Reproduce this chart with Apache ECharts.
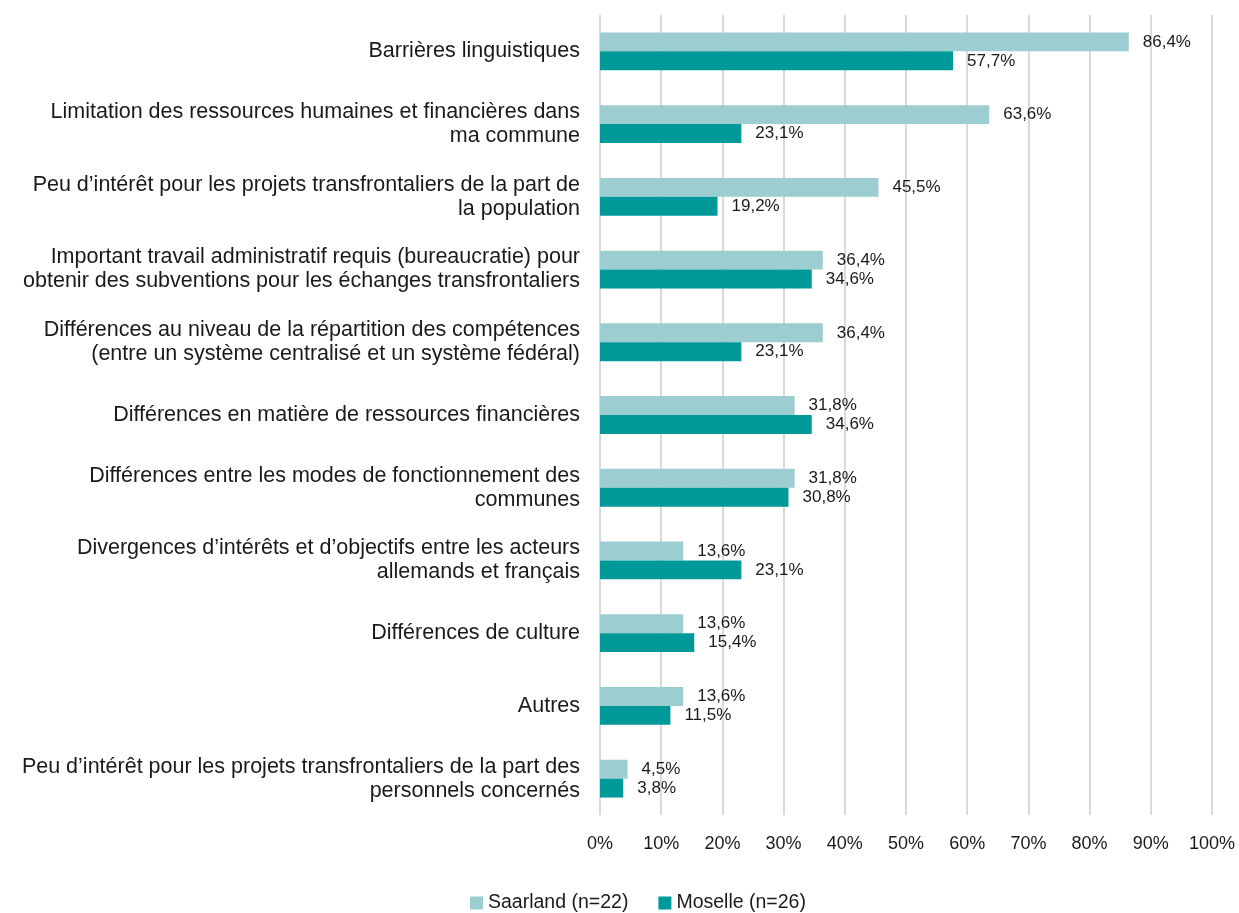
<!DOCTYPE html>
<html>
<head>
<meta charset="utf-8">
<script src="https://cdn.jsdelivr.net/npm/echarts@6/dist/echarts.min.js"></script>
<style>
  html, body { margin: 0; padding: 0; background: #fff; }
  #chart { width: 1239px; height: 913px; }
</style>
</head>
<body>
<div id="chart"></div>
<script>
// catégories (de haut en bas)
const categories = [
  'Barrières linguistiques',
  'Limitation des ressources humaines et financières dans\nma commune',
  'Peu d\u2019intérêt pour les projets transfrontaliers de la part de\nla population',
  'Important travail administratif requis (bureaucratie) pour\nobtenir des subventions pour les échanges transfrontaliers',
  'Différences au niveau de la répartition des compétences\n(entre un système centralisé et un système fédéral)',
  'Différences en matière de ressources financières',
  'Différences entre les modes de fonctionnement des\ncommunes',
  'Divergences d\u2019intérêts et d\u2019objectifs entre les acteurs\nallemands et français',
  'Différences de culture',
  'Autres',
  'Peu d\u2019intérêt pour les projets transfrontaliers de la part des\npersonnels concernés'
]
const saarland = [86.4, 63.6, 45.5, 36.4, 36.4, 31.8, 31.8, 13.6, 13.6, 13.6, 4.5]
const moselle = [57.7, 23.1, 19.2, 34.6, 23.1, 34.6, 30.8, 23.1, 15.4, 11.5, 3.8]
const xTicks = [0, 10, 20, 30, 40, 50, 60, 70, 80, 90, 100]

const FONT = '"Liberation Sans Narrow", "Arial Narrow", "Liberation Sans", sans-serif'

const chart = echarts.init(document.getElementById('chart'))

const pctLabel = (v) => v.toFixed(1).replace('.', ',') + '%'

chart.setOption({
  animation: false,
  textStyle: { fontFamily: FONT },
  legend: {
    data: ['Saarland (n=22)', 'Moselle (n=26)'],
    top: 888,
    left: 465,
    icon: 'rect',
    itemWidth: 13,
    itemHeight: 13,
    itemGap: 30,
    textStyle: { fontFamily: FONT, fontSize: 19.5, color: '#1a1a1a' }
  },
  grid: {
    left: 600,
    right: 27,
    top: 15,
    bottom: 98
  },
  xAxis: {
    type: 'value',
    min: 0,
    max: 100,
    interval: 10,
    axisLine: { show: false },
    axisTick: { show: false },
    axisLabel: {
      formatter: (v) => xTicks.includes(v) ? v + '%' : '',
      fontFamily: FONT,
      fontSize: 18,
      color: '#1a1a1a',
      margin: 20
    },
    splitLine: { show: true, lineStyle: { color: '#d9d9d9', width: 2 } }
  },
  yAxis: {
    type: 'category',
    inverse: true,
    data: categories,
    axisLine: { show: false },
    axisTick: { show: false },
    axisLabel: {
      fontFamily: FONT,
      fontSize: 21.5,
      color: '#1a1a1a',
      align: 'right',
      lineHeight: 24,
      margin: 20,
      padding: [6, 0, 0, 0]
    }
  },
  series: [
    {
      name: 'Saarland (n=22)',
      type: 'bar',
      data: saarland,
      barGap: '0%',
      barCategoryGap: '48%',
      itemStyle: { color: '#9ccdd0' },
      label: {
        show: true,
        position: 'right',
        distance: 14,
        formatter: (p) => pctLabel(p.value),
        fontFamily: FONT,
        fontSize: 17,
        color: '#1a1a1a'
      }
    },
    {
      name: 'Moselle (n=26)',
      type: 'bar',
      data: moselle,
      itemStyle: { color: '#009999' },
      label: {
        show: true,
        position: 'right',
        distance: 14,
        formatter: (p) => pctLabel(p.value),
        fontFamily: FONT,
        fontSize: 17,
        color: '#1a1a1a'
      }
    }
  ]
})
</script>
</body>
</html>
